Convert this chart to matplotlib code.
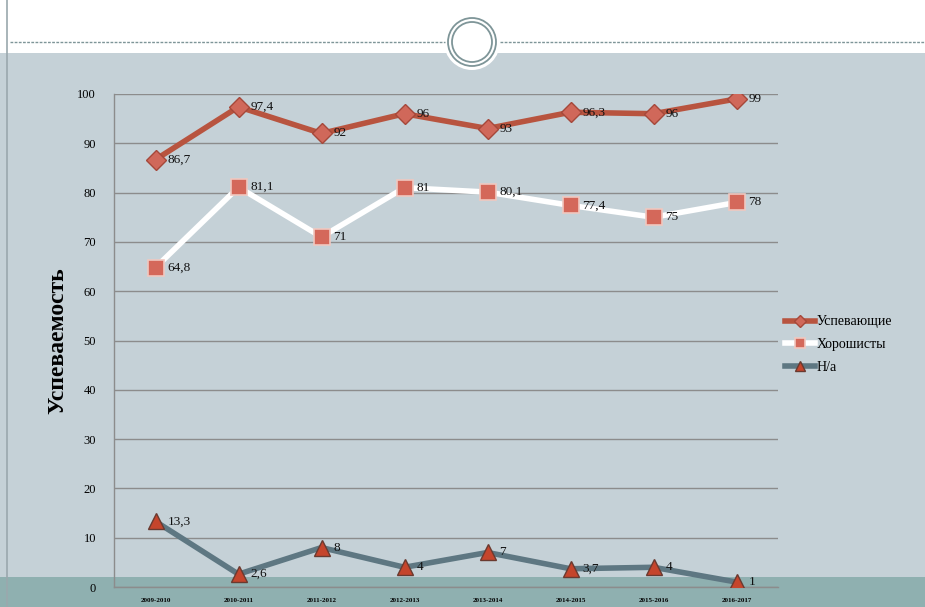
import numpy as np
import matplotlib.pyplot as plt
from matplotlib.patches import Rectangle, Circle
from matplotlib.lines import Line2D

# ========================
# Data
# ========================
years = ["2009-2010", "2010-2011", "2011-2012", "2012-2013",
         "2013-2014", "2014-2015", "2015-2016", "2016-2017"]
uspev = [86.7, 97.4, 92, 96, 93, 96.3, 96, 99]
horosh = [64.8, 81.1, 71, 81, 80.1, 77.4, 75, 78]
na = [13.3, 2.6, 8, 4, 7, 3.7, 4, 1]

uspev_lbl = ["86,7", "97,4", "92", "96", "93", "96,3", "96", "99"]
horosh_lbl = ["64,8", "81,1", "71", "81", "80,1", "77,4", "75", "78"]
na_lbl = ["13,3", "2,6", "8", "4", "7", "3,7", "4", "1"]

W, H = 925, 607
plt.rcParams["font.family"] = ["Liberation Serif", "DejaVu Serif"]

fig = plt.figure(figsize=(W / 100, H / 100), dpi=100)
fig.patch.set_facecolor("#c5d1d7")

# slide decoration: white header, teal footer, left border
fig.patches.append(Rectangle((0, 1 - 53 / H), 1, 53 / H, transform=fig.transFigure,
                             facecolor="white", edgecolor="none", zorder=0))
fig.patches.append(Rectangle((0, 0), 1, 30 / H, transform=fig.transFigure,
                             facecolor="#8fb0b0", edgecolor="none", zorder=0))
fig.add_artist(Line2D([7 / W, 7 / W], [0, 1], transform=fig.transFigure,
                      color="#9aa8ad", lw=1.2))
fig.add_artist(Line2D([10 / W, 445 / W], [1 - 42 / H] * 2, transform=fig.transFigure,
                      color="#7e9598", lw=1, ls=(0, (2, 1))))
fig.add_artist(Line2D([500 / W, 1], [1 - 42 / H] * 2, transform=fig.transFigure,
                      color="#7e9598", lw=1, ls=(0, (2, 1))))

deco = fig.add_axes([0, 0, 1, 1], zorder=1)
deco.set_xlim(0, W)
deco.set_ylim(H, 0)
deco.axis("off")
deco.add_patch(Circle((472, 42), 28, facecolor="white", edgecolor="none"))
deco.add_patch(Circle((472, 42), 24, facecolor="white", edgecolor="#7e9598", lw=1.3))
deco.add_patch(Circle((472, 42), 20, facecolor="white", edgecolor="#7e9598", lw=1.3))

# ========================
# Chart
# ========================
ax = fig.add_axes([114 / W, 1 - 587 / H, 664 / W, 493 / H], zorder=2)
ax.patch.set_alpha(0)
x = np.arange(len(years))

ax.plot(x, uspev, color="#b8543f", lw=4, marker="D", ms=10,
        mfc="#d0685a", mec="#a5483a", mew=1, label="Успевающие", zorder=3)
ax.plot(x, horosh, color="white", lw=4, marker="s", ms=12,
        mfc="#d4685a", mec="#f0c8c0", mew=1.2, label="Хорошисты", zorder=3)
ax.plot(x, na, color="#5e7782", lw=4, marker="^", ms=12,
        mfc="#c5452c", mec="#6a3a30", mew=1, label="Н/а", zorder=3)

for vals, lbls in [(uspev, uspev_lbl), (horosh, horosh_lbl), (na, na_lbl)]:
    for xi, v, t in zip(x, vals, lbls):
        ax.annotate(t, (xi, v), xytext=(12, 0), textcoords="offset pixels",
                    ha="left", va="center", fontsize=9.5, color="#111111", zorder=4)

ax.set_xlim(-0.5, len(years) - 0.5)
ax.set_ylim(0, 100)
ax.set_yticks(range(0, 101, 10))
ax.set_xticks(x)
ax.set_xticklabels(years, fontsize=5, fontweight="bold")
ax.tick_params(axis="y", labelsize=9, length=0, pad=13)
ax.tick_params(axis="x", length=0, pad=8)
ax.grid(axis="y", color="#8c8c8c", lw=1)
ax.set_axisbelow(True)
for s in ["top", "right"]:
    ax.spines[s].set_visible(False)
for s in ["left", "bottom"]:
    ax.spines[s].set_color("#8c8c8c")
    ax.spines[s].set_linewidth(1)

ax.set_ylabel("Успеваемость", fontsize=17, fontweight="bold", labelpad=6)

fig.legend(loc="upper left", bbox_to_anchor=(772 / W, 1 - 303 / H), frameon=False,
           fontsize=10, handlelength=2.2, handletextpad=0.1, labelspacing=0.7,
           markerscale=0.6)

fig.savefig("out.png", dpi=100, facecolor=fig.get_facecolor())
